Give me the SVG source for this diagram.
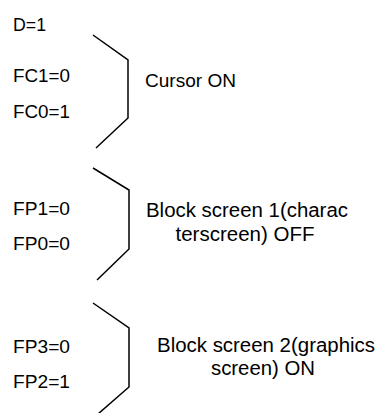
<svg xmlns="http://www.w3.org/2000/svg" width="376" height="413" viewBox="0 0 376 413">
<style>
.t{font-family:"Liberation Sans",Arial,sans-serif;fill:#000}
.l{font-size:18px}
.r{font-size:20px}
.b{fill:none;stroke:#000;stroke-width:1.5}
</style>
<rect width="376" height="413" fill="#fff"/>
<g id="labels-left">
<text class="t l" x="13" y="30.5" textLength="33" lengthAdjust="spacingAndGlyphs">D=1</text>
<text class="t l" x="13" y="81.5" textLength="57" lengthAdjust="spacingAndGlyphs">FC1=0</text>
<text class="t l" x="13" y="117.5" textLength="57" lengthAdjust="spacingAndGlyphs">FC0=1</text>
<text class="t l" x="13" y="215" textLength="57" lengthAdjust="spacingAndGlyphs">FP1=0</text>
<text class="t l" x="13" y="249.5" textLength="57" lengthAdjust="spacingAndGlyphs">FP0=0</text>
<text class="t l" x="13" y="353" textLength="57" lengthAdjust="spacingAndGlyphs">FP3=0</text>
<text class="t l" x="13" y="387.5" textLength="57" lengthAdjust="spacingAndGlyphs">FP2=1</text>
</g>
<g id="connectors">
<polyline class="b" points="93,35 128,60 128,118 96,148"/>
<polyline class="b" points="93,168 129,190 129,249 97,280"/>
<polyline class="b" points="93,303 129,328 129,387 98,414"/>
</g>
<g id="node-cursor">
<text class="t r" x="145" y="86.5" textLength="91" lengthAdjust="spacingAndGlyphs" style="font-size:19px">Cursor ON</text>
</g>
<g id="node-block1">
<text class="t r" x="247" y="217" text-anchor="middle" textLength="202" lengthAdjust="spacingAndGlyphs">Block screen 1(charac</text>
<text class="t r" x="245" y="241" text-anchor="middle" textLength="139" lengthAdjust="spacingAndGlyphs">terscreen) OFF</text>
</g>
<g id="node-block2">
<text class="t r" x="266" y="352" text-anchor="middle" textLength="218" lengthAdjust="spacingAndGlyphs">Block screen 2(graphics</text>
<text class="t r" x="263" y="375" text-anchor="middle" textLength="104" lengthAdjust="spacingAndGlyphs">screen) ON</text>
</g>
</svg>
